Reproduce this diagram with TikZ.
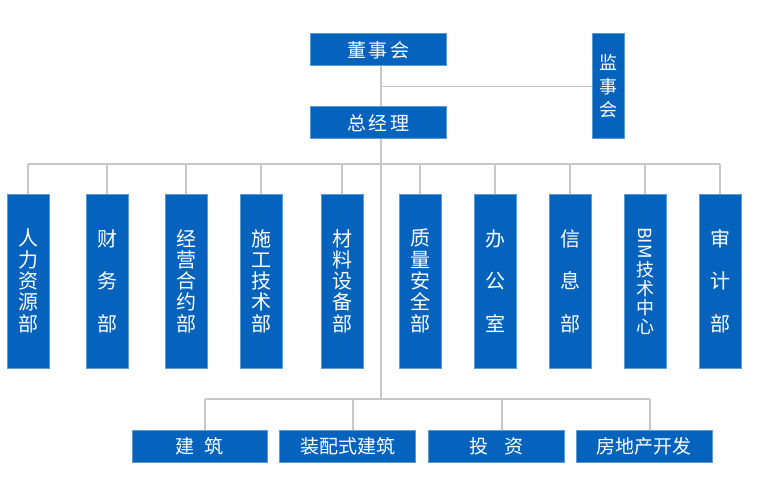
\documentclass[tikz,border=0pt]{standalone}
\usepackage{fontspec}
\newfontfamily\cjk{Noto Sans CJK SC}
\definecolor{boxblue}{RGB}{5,99,190}
\definecolor{boxedge}{RGB}{91,155,213}
\definecolor{linegray}{RGB}{200,200,200}
\begin{document}
\begin{tikzpicture}[x=1pt,y=-1pt,
  box/.style={draw=boxedge,line width=1pt,fill=boxblue,text=white,inner sep=0pt,font=\cjk\fontsize{19}{21}\selectfont},
  hbox/.style={box,minimum width=136pt,minimum height=32pt},
  vbox/.style={box,minimum width=42pt,minimum height=174pt,align=center,text width=40pt,font=\cjk\fontsize{20}{21.3}\selectfont},
  wide/.style={font=\cjk\fontsize{20}{42.6}\selectfont},
  conn/.style={draw=linegray,line width=1.6pt}]
\useasboundingbox (0,0) rectangle (760,492);
% top level
\node[hbox] (dsh) at (378.5,50) {董\hspace{3pt}事\hspace{3pt}会};
\node[hbox] (zjl) at (378.5,123) {总\hspace{3pt}经\hspace{3pt}理};
\node[box,minimum width=32pt,minimum height=105pt,align=center,text width=30pt,font=\cjk\fontsize{18}{23.5}\selectfont] (jsh) at (608,86.5) {监\\事\\会};
% departments
\node[vbox] (d1) at (28,281) {人\\力\\资\\源\\部};
\node[vbox,wide] (d2) at (107,281) {财\\务\\部};
\node[vbox] (d3) at (186,281) {经\\营\\合\\约\\部};
\node[vbox] (d4) at (261,281) {施\\工\\技\\术\\部};
\node[vbox] (d5) at (342,281) {材\\料\\设\\备\\部};
\node[vbox] (d6) at (420,281) {质\\量\\安\\全\\部};
\node[vbox,wide] (d7) at (495,281) {办\\公\\室};
\node[vbox,wide] (d8) at (570,281) {信\\息\\部};
\node[vbox,font=\cjk\fontsize{18}{19}\selectfont] (d9) at (645,281) {\rotatebox[origin=c]{-90}{BIM}\\[2pt]技\\术\\中\\心};
\node[vbox,wide] (d10) at (720,281) {审\\计\\部};
% business
\node[hbox,minimum width=135pt] (b1) at (199.5,446) {建\hspace{10pt}筑};
\node[hbox,minimum width=136pt] (b2) at (347.5,446) {装配式建筑};
\node[hbox,minimum width=136pt] (b3) at (496,446) {投\hspace{16pt}资};
\node[hbox,minimum width=136pt] (b4) at (644,446) {房地产开发};
% connectors
\coordinate (bus) at (381,164);
\coordinate (low) at (381,399);
\draw[conn] (dsh.south -| bus) -- (zjl.north -| bus);
\draw[conn] (jsh.west) -- (jsh.west -| bus);
\draw[conn] (zjl.south -| bus) -- (low);
\draw[conn] (d1.north |- bus) -- (d10.north |- bus);
\foreach \d in {d1,d2,d3,d4,d5,d6,d7,d8,d9,d10}{
  \draw[conn] (\d.north) -- (\d.north |- bus);
}
\draw[conn] (205,399) coordinate (l1) -- (650,399) coordinate (l4);
\draw[conn] (b1.north -| l1) -- (l1);
\draw[conn] (b2.north -| 353,0) -- (353,399);
\draw[conn] (b3.north -| 502,0) -- (502,399);
\draw[conn] (b4.north -| l4) -- (l4);
\end{tikzpicture}
\end{document}
